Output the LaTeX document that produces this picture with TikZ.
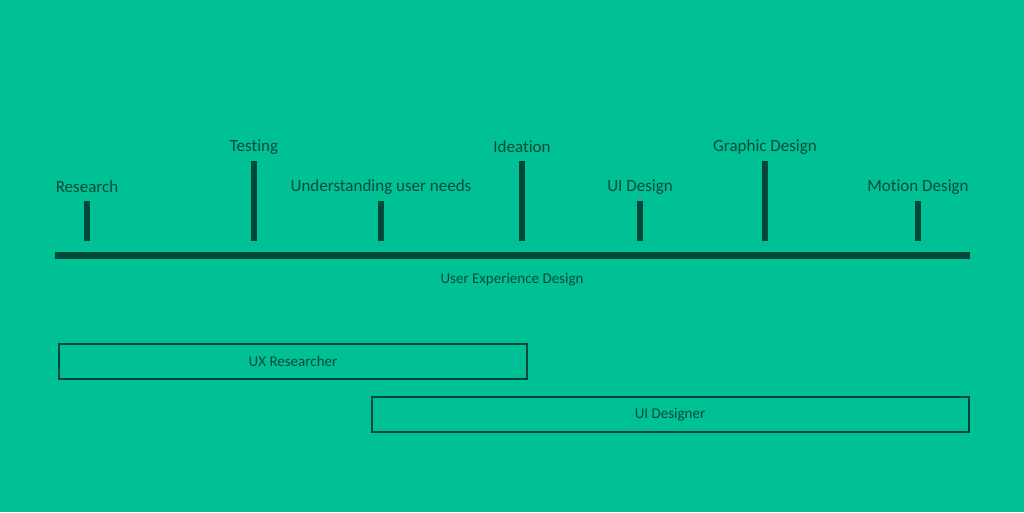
\documentclass[tikz,border=0pt]{standalone}
\usepackage{fontspec}
\setmainfont[Ligatures={NoCommon}]{Carlito}
\definecolor{bg}{RGB}{0,193,150}
\definecolor{dk}{RGB}{0,72,56}
\definecolor{tx}{RGB}{8,74,58}
\begin{document}
\begin{tikzpicture}[x=1pt,y=-1pt,
  lbl/.style={text=tx,font=\fontsize{17}{19}\selectfont,inner sep=0pt,anchor=center},
  small/.style={text=tx,font=\fontsize{15}{17}\selectfont,inner sep=0pt,anchor=center},
  tick/.style={draw=dk,line width=6pt},
  rolebox/.style={draw=dk,line width=2pt,inner sep=0pt}]
\fill[bg] (0,0) rectangle (1024,512);
\useasboundingbox (0,0) rectangle (1024,512);
% axis
\coordinate (axL) at (55,255.5);
\coordinate (axR) at (970,255.5);
\draw[dk,line width=7pt] (axL) -- (axR);
\node[small] (ux) at (512,279.5) {User Experience Design};
% ticks
\foreach \n/\x/\t in {a/87/201,b/254/161,c/381/201,d/522/161,e/640/201,f/765/161,g/918/201}{
  \coordinate (\n top) at (\x,\t);
  \coordinate (\n bot) at (\x,241);
  \draw[tick] (\n top) -- (\n bot);
}
\node[lbl] (research) at (87,187) {Research};
\node[lbl] (testing) at (254,147) {Testing};
\node[lbl] (understanding) at (381,187) {Understanding user needs};
\node[lbl] (ideation) at (522,147) {Ideation};
\node[lbl] (uidesign) at (640,187) {UI Design};
\node[lbl] (graphic) at (765,147) {Graphic Design};
\node[lbl] (motion) at (918,187) {Motion Design};
% role boxes
\draw[rolebox] (59,343.5) rectangle (527,379);
\node[small] (uxr) at (293,361.5) {UX Researcher};
\draw[rolebox] (372,396.5) rectangle (969,432);
\node[small] (uid) at (670,414.5) {UI Designer};
\end{tikzpicture}
\end{document}
